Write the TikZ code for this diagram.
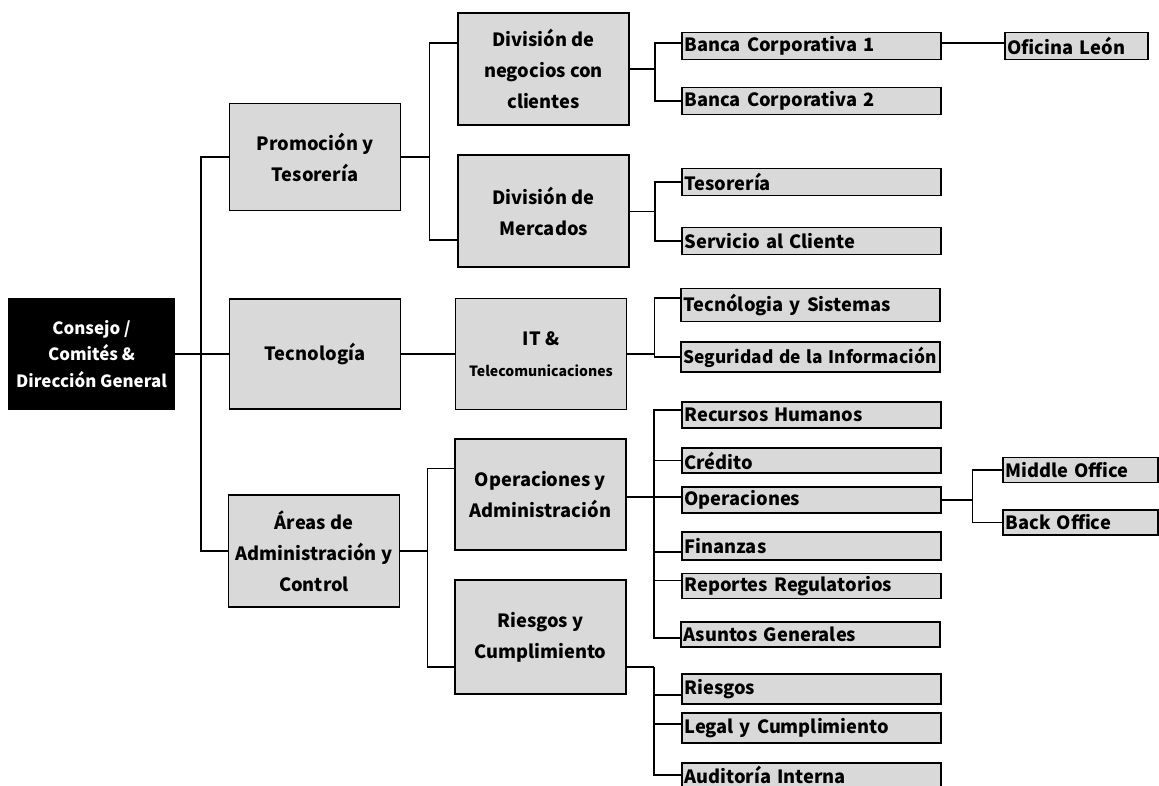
\documentclass[tikz,border=0pt]{standalone}
\usepackage{fontspec}
\setmainfont{Noto Sans CJK JP}
\usepackage{xcolor}
\usepackage{tikz}
\usetikzlibrary{positioning,calc}
\definecolor{boxgray}{RGB}{217,217,217}

\tikzset{
  rootbox/.style={fill=black, text=white, minimum width=4.175cm, minimum height=2.8cm,
    align=center, inner sep=1pt, font=\bfseries\fontsize{12}{19}\selectfont},
  unitbox/.style={draw=black, line width=1.1pt, fill=boxgray, minimum width=4.275cm,
    minimum height=2.8cm, align=center, inner sep=1pt, font=\bfseries\fontsize{13}{22}\selectfont},
  leafbox/.style={draw=black, line width=1.1pt, fill=boxgray, minimum height=0.68cm,
    text width=6.35cm, inner xsep=0.06cm, inner ysep=0pt, align=left,
    font=\bfseries\fontsize{13}{14}\selectfont},
  officebox/.style={leafbox, text width=#1},
  link/.style={line width=1.1pt},
  thinlink/.style={line width=0.6pt}
}

\begin{document}
\begin{tikzpicture}[x=0.025cm, y=-0.025cm]
    \useasboundingbox (0,0) rectangle (1159,785);

    % Direccion
    \node[rootbox] (root) at (91.5,354) {Consejo /\\Comités \&\\Dirección General};

    % primer nivel
    \node[unitbox, minimum height=2.675cm] (promo) at (315,157) {Promoción y\\Tesorería};
    \node[unitbox, minimum height=2.75cm] (tec) at (315,354) {Tecnología};
    \node[unitbox] (areas) at (314,551) {Áreas de\\Administración y\\Control};

    % segundo nivel
    \node[unitbox] (divneg) at (543.5,69) {División de\\negocios con\\clientes};
    \node[unitbox] (divmer) at (543.5,211) {División de\\Mercados};
    \node[unitbox, minimum height=2.775cm] (it) at (541,354)
        {{\fontsize{13}{22}\selectfont IT \&}\\{\fontsize{10}{14}\selectfont Telecomunicaciones}};
    \node[unitbox, minimum height=2.775cm] (opadm) at (540.5,494.5) {Operaciones y\\Administración};
    \node[unitbox, minimum height=2.85cm] (riesg) at (540.5,637) {Riesgos y\\Cumplimiento};

    % areas
    \node[leafbox] (bc1) at (811.5,46) {Banca Corporativa 1};
    \node[leafbox] (bc2) at (811.5,101) {Banca Corporativa 2};
    \node[leafbox] (tesor) at (811.5,182) {Tesorería};
    \node[leafbox] (servc) at (811.5,241) {Servicio al Cliente};
    \node[leafbox, minimum height=0.825cm] (tecsis) at (810.5,305) {Tecnólogia y Sistemas};
    \node[leafbox, minimum height=0.75cm, font=\bfseries\fontsize{12.3}{14}\selectfont] (segur)
        at (810.5,357) {Seguridad de la Información};
    \node[leafbox, minimum height=0.65cm] (rrhh) at (811.5,415) {Recursos Humanos};
    \node[leafbox, minimum height=0.625cm] (credito) at (811.5,460.5) {Crédito};
    \node[leafbox, minimum height=0.65cm] (operac) at (811.5,500) {Operaciones};
    \node[leafbox, minimum height=0.7cm] (finanzas) at (811.5,546) {Finanzas};
    \node[leafbox, minimum height=0.625cm] (reportes) at (811.5,586) {Reportes Regulatorios};
    \node[leafbox, minimum height=0.625cm] (asuntos) at (810.5,634.5) {Asuntos Generales};
    \node[leafbox, minimum height=0.75cm] (riesgos) at (811.5,689) {Riesgos};
    \node[leafbox, minimum height=0.75cm] (legal) at (811.5,728) {Legal y Cumplimiento};
    \node[leafbox, minimum height=0.6cm] (audit) at (811.5,775) {Auditoría Interna};

    % oficinas
    \node[officebox=3.45cm, minimum height=0.675cm] (oficina) at (1076.5,46) {Oficina León};
    \node[officebox=3.75cm, minimum height=0.625cm] (middle) at (1080.5,470) {Middle Office};
    \node[officebox=3.75cm, minimum height=0.625cm] (back) at (1080.5,522.5) {Back Office};

    % conexiones
    \coordinate (b0) at (201,354);
    \draw[link] (root.east) -- (tec.west);
    \draw[link] (promo.west) -| (b0) |- (areas.west);

    \draw[link] (promo.east) -- ++(28,0) coordinate (j1);
    \draw[link] ($(divneg.west)+(0,-26)$) -| (j1) |- ($(divmer.west)+(0,29)$);

    \draw[link] (divneg.east) -- ++(25,0) coordinate (j2);
    \draw[link] ($(bc1.west)+(0,-3)$) -| (j2) |- (bc2.west);
    \draw[link] ($(bc1.east)+(0,-3)$) -- ($(oficina.west)+(0,-3)$);

    \draw[thinlink] (divmer.east) -- ++(25,0) coordinate (j3);
    \draw[link] (tesor.west) -| (j3) |- (servc.west);

    \draw[link] (tec.east) -- (it.west);
    \draw[link] (it.east) -- ++(27,0) coordinate (j4);
    \draw[link] ($(tecsis.west)+(0,-7)$) -| (j4) |- (segur.west);

    \draw[link] (areas.east) -- ++(27,0) coordinate (j5);
    \draw[thinlink] ($(opadm.west)+(0,-26.5)$) -| (j5);
    \draw[link] (j5) |- ($(riesg.west)+(0,30)$);

    \draw[link] ($(opadm.east)+(0,2.5)$) -- ($(opadm.east -| operac.west)+(0,2.5)$);
    \coordinate (j6) at ($(opadm.east)+(27,0)$);
    \draw[link] ($(rrhh.west)+(0,-5)$) -| (j6) |- ($(asuntos.west)+(0,3.5)$);
    \draw[thinlink] (credito.west) -- (credito.west -| j6);
    \draw[link] ($(finanzas.west)+(0,6)$) -- ($(finanzas.west -| j6)+(0,6)$);
    \draw[thinlink] ($(reportes.west)+(0,-6)$) -- ($(reportes.west -| j6)+(0,-6)$);

    \draw[link] ($(riesg.east)+(0,30)$) -- ++(27,0) coordinate (j7);
    \draw[link] (j7) |- (audit.west);
    \draw[link] ($(riesgos.west)+(0,6)$) -- ($(riesgos.west -| j7)+(0,6)$);
    \draw[link] ($(legal.west)+(0,-4)$) -- ($(legal.west -| j7)+(0,-4)$);

    \draw[link] (operac.east) -- ++(31,0) coordinate (j8);
    \draw[link] (middle.west) -| (j8) |- (back.west);
\end{tikzpicture}
\end{document}
